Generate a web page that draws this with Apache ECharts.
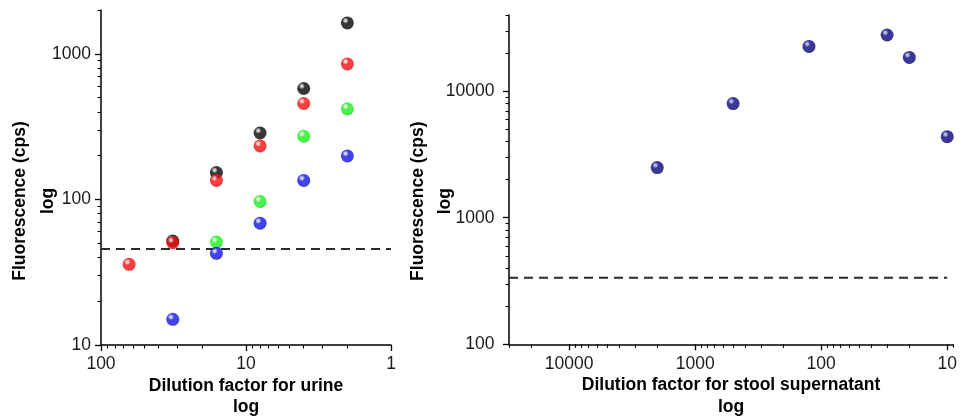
<!DOCTYPE html>
<html>
<head>
<meta charset="utf-8">
<script src="https://cdn.jsdelivr.net/npm/echarts@6/dist/echarts.min.js"></script>
<style>
html,body{margin:0;padding:0;background:#fff;}
#chart{width:962px;height:418px;}
</style>
</head>
<body>
<div id="chart"></div>
<script>
// ---------- data ----------
const urineDilution = [64, 32, 16, 8, 4, 2];
const urineBlack = [null, 51.8, 153, 286, 578, 1630];
const urineRed   = [35.8, 50.4, 135, 233, 456, 853];
const urineGreen = [null, null, 50.9, 96.9, 272, 419];
const urineBlue  = [null, 15.0, 42.6, 68.7, 135, 199];
const urineCutoff = 45.6;

const stoolDilution = [2000, 500, 125, 30, 20, 10];
const stoolFluor    = [2490, 7980, 22600, 27800, 18500, 4370];
const stoolCutoff = 336;

// tick labels (major ticks)
const urineXTicks = [100, 10, 1];
const urineYTicks = [10, 100, 1000];
const stoolXTicks = [10000, 1000, 100, 10];
const stoolYTicks = [100, 1000, 10000];
const minorMultipliers = [2, 3, 4, 5, 6, 7, 8, 9];

// axis ranges
const urineXRange = [1, 100];
const urineYRange = [10, 2000];
const stoolXRange = [9, 30000];
const stoolYRange = [100, 40000];

// ---------- helpers ----------
const FONT = '"Liberation Sans", Arial, sans-serif';

function minorTicks(range, decades) {
  const out = [];
  decades.forEach(d => minorMultipliers.forEach(m => {
    const v = d * m;
    if (v >= range[0] && v <= range[1]) out.push(v);
  }));
  return out;
}
function pairs(xs, ys) {
  const out = [];
  xs.forEach((x, i) => { if (ys[i] != null) out.push([x, ys[i]]); });
  return out;
}
function sphere(hi, base, dark) {
  return {
    type: 'radial', x: 0.36, y: 0.32, r: 0.8,
    colorStops: [
      {offset: 0, color: hi},
      {offset: 0.1, color: hi},
      {offset: 0.3, color: base},
      {offset: 0.72, color: base},
      {offset: 1, color: dark}
    ]
  };
}
const labelStyle = {fontFamily: FONT, fontSize: 17.5, color: '#1a1a1a'};
const nameStyleBase = {fontFamily: FONT, fontSize: 17.5, fontWeight: 'bold', color: '#000'};

function majorAxis(grid, range, ticks, extra) {
  const base = {
    type: 'log', logBase: 10, gridIndex: grid,
    min: range[0], max: range[1],
    axisLine: {show: true, onZero: false, lineStyle: {color: '#000', width: 1.5}},
    axisTick: {show: true, inside: false, length: 6, customValues: ticks, lineStyle: {color: '#000', width: 1.3}},
    splitLine: {show: false},
    minorTick: {show: false},
    nameMoveOverlap: false
  };
  return Object.assign(base, extra);
}
function minorAxis(grid, range, ticks, extra) {
  return Object.assign({
    type: 'log', logBase: 10, gridIndex: grid,
    min: range[0], max: range[1],
    axisLine: {show: false, onZero: false},
    axisTick: {show: true, inside: false, length: 3.5, customValues: ticks, lineStyle: {color: '#000', width: 1.1}},
    axisLabel: {show: false},
    splitLine: {show: false},
    minorTick: {show: false}
  }, extra);
}
function labels(ticks, margin) {
  return Object.assign({show: true, margin: margin, customValues: ticks, formatter: v => String(Math.round(v))}, labelStyle);
}

const urineXMinor = minorTicks(urineXRange, [1, 10]);
const urineYMinor = minorTicks(urineYRange, [10, 100, 1000]);
const stoolXMinor = minorTicks(stoolXRange, [1, 10, 100, 1000, 10000]);
const stoolYMinor = minorTicks(stoolYRange, [100, 1000, 10000]);

const option = {
  backgroundColor: '#fff',
  animation: false,
  grid: [
    {left: 101, top: 10, width: 290, height: 335, outerBoundsMode: 'none', containLabel: false},
    {left: 509, top: 15, width: 444, height: 329.3, outerBoundsMode: 'none', containLabel: false}
  ],
  xAxis: [
    majorAxis(0, urineXRange, urineXTicks, {
      position: 'bottom', inverse: true,
      name: 'Dilution factor for urine\nlog', nameLocation: 'middle', nameGap: 30,
      nameTextStyle: Object.assign({lineHeight: 21.5}, nameStyleBase),
      axisLabel: labels(urineXTicks, 10)
    }),
    minorAxis(0, urineXRange, urineXMinor, {position: 'bottom', inverse: true}),
    majorAxis(1, stoolXRange, stoolXTicks, {
      position: 'bottom', inverse: true,
      name: 'Dilution factor for stool supernatant\nlog', nameLocation: 'middle', nameGap: 30.5,
      nameTextStyle: Object.assign({lineHeight: 21.5}, nameStyleBase),
      axisLabel: labels(stoolXTicks, 10.5)
    }),
    minorAxis(1, stoolXRange, stoolXMinor, {position: 'bottom', inverse: true})
  ],
  yAxis: [
    majorAxis(0, urineYRange, urineYTicks, {
      position: 'left',
      name: 'Fluorescence (cps)\nlog', nameLocation: 'middle', nameGap: 38.6, nameRotate: 90,
      nameTextStyle: Object.assign({lineHeight: 28, padding: [0, 47, 0, 0]}, nameStyleBase),
      axisLabel: labels(urineYTicks, 10)
    }),
    minorAxis(0, urineYRange, urineYMinor, {position: 'left'}),
    majorAxis(1, stoolYRange, stoolYTicks, {
      position: 'left',
      name: 'Fluorescence (cps)\nlog', nameLocation: 'middle', nameGap: 50, nameRotate: 90,
      nameTextStyle: Object.assign({lineHeight: 27, padding: [0, 43, 0, 0]}, nameStyleBase),
      axisLabel: labels(stoolYTicks, 14.5)
    }),
    minorAxis(1, stoolYRange, stoolYMinor, {position: 'left'})
  ],
  series: [
    {
      type: 'line', xAxisIndex: 0, yAxisIndex: 0, symbol: 'none', silent: true, z: 1,
      lineStyle: {color: '#2a2a2a', width: 2, type: [9, 6]},
      data: [[urineXRange[1], urineCutoff], [urineXRange[0], urineCutoff]]
    },
    {
      type: 'scatter', name: 'black', xAxisIndex: 0, yAxisIndex: 0, symbolSize: 13, z: 3,
      itemStyle: {color: sphere('#c4c4c4', '#050505', '#000000')},
      data: pairs(urineDilution, urineBlack)
    },
    {
      type: 'scatter', name: 'red', xAxisIndex: 0, yAxisIndex: 0, symbolSize: 13, z: 3,
      itemStyle: {color: sphere('#ffcccc', '#f21010', '#b00000')},
      data: pairs(urineDilution, urineRed)
    },
    {
      type: 'scatter', name: 'green', xAxisIndex: 0, yAxisIndex: 0, symbolSize: 13, z: 3,
      itemStyle: {color: sphere('#d4ffd4', '#1eee1e', '#0c9c0c')},
      data: pairs(urineDilution, urineGreen)
    },
    {
      type: 'scatter', name: 'blue', xAxisIndex: 0, yAxisIndex: 0, symbolSize: 13, z: 3,
      itemStyle: {color: sphere('#ccccff', '#1414e6', '#000090')},
      data: pairs(urineDilution, urineBlue)
    },
    {
      type: 'line', xAxisIndex: 2, yAxisIndex: 2, symbol: 'none', silent: true, z: 1,
      lineStyle: {color: '#2a2a2a', width: 2, type: [9, 6]},
      data: [[stoolXRange[1], stoolCutoff], [10, stoolCutoff]]
    },
    {
      type: 'scatter', name: 'stool', xAxisIndex: 2, yAxisIndex: 2, symbolSize: 13, z: 3,
      itemStyle: {color: sphere('#a8a8e8', '#06067c', '#000040')},
      data: pairs(stoolDilution, stoolFluor)
    }
  ]
};

const chart = echarts.init(document.getElementById('chart'), null, {renderer: 'canvas'});
chart.setOption(option);
</script>
</body>
</html>
